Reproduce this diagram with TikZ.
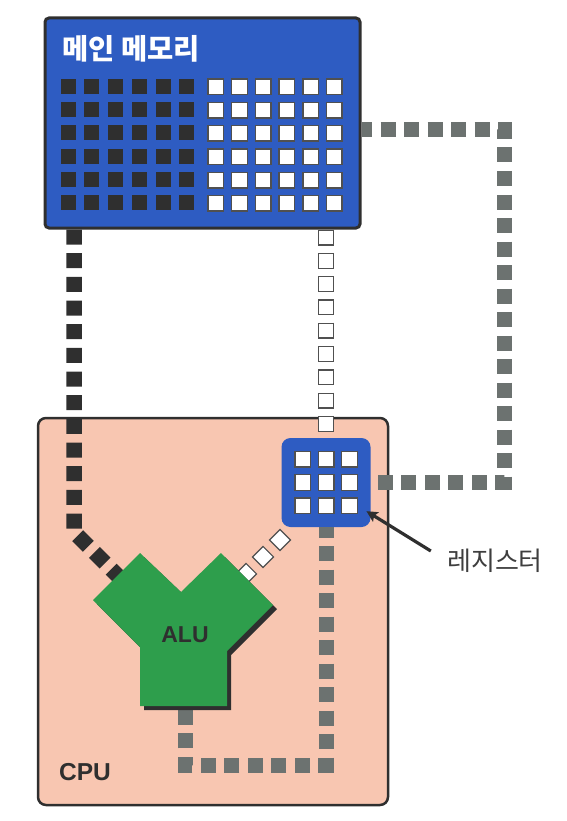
\documentclass[tikz,border=0pt]{standalone}
\usepackage{fontspec}
\setmainfont{Liberation Sans}
\newfontfamily\krfont{Noto Sans CJK KR}
\usepackage{tikz}
\usetikzlibrary{arrows.meta}
\definecolor{ink}{HTML}{2F2F2F}
\definecolor{memBlue}{HTML}{2E5CC2}
\definecolor{cpuPeach}{HTML}{F8C6B1}
\definecolor{aluGreen}{HTML}{2E9E4C}
\definecolor{busGrey}{HTML}{6C7270}
\definecolor{cellLine}{HTML}{505050}
\definecolor{labelGrey}{HTML}{3E3E3E}
\tikzset{
  membox/.style={draw=ink, fill=memBlue, line width=3pt, rounded corners=4pt, inner sep=0pt},
  cpubox/.style={draw=ink, fill=cpuPeach, line width=2.5pt, rounded corners=8pt, inner sep=0pt},
  regbox/.style={fill=memBlue, rounded corners=9pt, inner sep=0pt},
  cellwhite/.style={draw=cellLine, fill=white, line width=1.4pt},
  busdark/.style={draw=ink, line width=15.5pt, dash pattern=on 15pt off 8.67pt},
  busgrey/.style={draw=busGrey, line width=15pt, dash pattern=on 15pt off 8.5pt, dash phase=4.5pt, line join=miter},
  busedge/.style={draw=cellLine, line width=16pt, dash pattern=on 16pt off #1},
  busfill/.style={draw=white, line width=13.4pt, dash pattern=on 13.4pt off #1},
  pointer/.style={draw=ink, line width=3.2pt, -{Stealth[length=11pt,width=11pt,inset=2pt]}},
  ttitle/.style={inner sep=0pt, anchor=base west, font=\krfont\bfseries\fontsize{28.5}{32}\selectfont, text=white},
  tbig/.style={inner sep=0pt, font=\bfseries\fontsize{23}{26}\selectfont, text=ink},
  tlabel/.style={inner sep=0pt, font=\krfont\fontsize{26}{29}\selectfont, text=labelGrey},
}
\begin{document}
\begin{tikzpicture}[x=1pt, y=-1pt]
  \useasboundingbox (0,0) rectangle (566,821);

  \node[cpubox, minimum width=350pt, minimum height=387pt] (cpu) at (213,611.5) {};
  \node[membox, minimum width=315pt, minimum height=210pt] (mem) at (202.5,123) {};
  \node[ttitle] (memlbl) at (62,60) {메인 메모리};
  \foreach \r in {0,...,5} {
    \foreach \c in {0,...,5} {
      \fill[ink] ({60.7+23.7*\c},{78.8+23.33*\r}) rectangle ++(15,15);
      \draw[cellwhite] ({208+23.7*\c},{79+23.33*\r}) rectangle ++(15.5,15.5);
    }
  }

  \coordinate (dkBend) at (74,532);
  \coordinate (dkEnd) at (124,582);
  \coordinate (gTopR) at (504,130);
  \coordinate (gBotR) at (504,482.5);
  \coordinate (gBotL) at (185.5,765);
  \coordinate (aluBase) at (185.5,706);
  \coordinate (wdStart) at (285.66,534.34);
  \coordinate (wdEnd) at (236,584);

  % buses
  \draw[busdark] (mem.south -| dkBend) -- (dkBend) -- (dkEnd);
  \draw[busedge=7.3pt] (mem.south -| 326,0) -- (326,438);
  \draw[busfill=9.9pt, dash phase=22pt] (mem.south -| 326,0) -- (326,438);
  \draw[busgrey] (mem.east |- gTopR) -- (gTopR) -- (gBotR) -- (370.5,482.5);
  \draw[busedge=8pt] (wdStart) -- (wdEnd);
  \draw[busfill=10.6pt, dash phase=22.7pt] (wdStart) -- (wdEnd);

  \node[regbox, minimum size=89pt] (reg) at (326,482.5) {};
  \foreach \r in {-1,0,1} {
    \foreach \c in {-1,0,1} {
      \draw[cellwhite] ({318.2+23.4*\c},{474.7+23.3*\r}) rectangle ++(15.6,15.6);
    }
  }
  \draw[busgrey] (reg.south) -- (reg.south |- gBotL) -- (gBotL) -- (aluBase);

  \foreach \d/\col in {4/ink, 0/aluGreen}
    \fill[\col, shift={(\d,\d)}] (93,600) -- (140,553) -- (181,592) -- (221,553) -- (273,605)
      -- (227,651) -- (227,706) -- (140,706) -- (140,647) -- cycle;
  \node[tbig] (alu) at (185,635) {ALU};
  \node[tbig, anchor=base west, font=\bfseries\fontsize{24.5}{27}\selectfont] (cpulbl) at (59,780) {CPU};

  \node[tlabel] (reglbl) at (495,561) {레지스터};
  \draw[pointer, shorten <=19pt, shorten >=-5pt] (reglbl.west) -- (reg.-35);
\end{tikzpicture}
\end{document}
